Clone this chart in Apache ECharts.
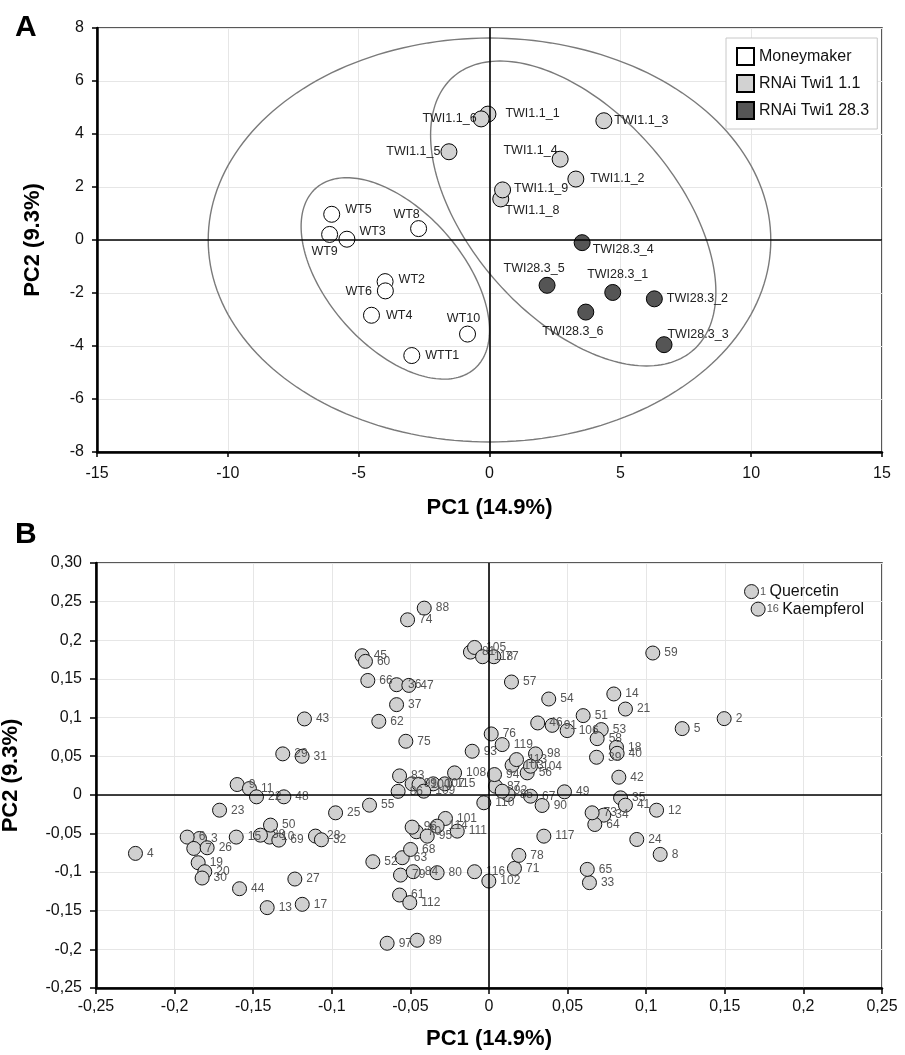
<!DOCTYPE html>
<html>
<head>
<meta charset="utf-8">
<script src="https://cdn.jsdelivr.net/npm/echarts@6/dist/echarts.min.js"></script>
<style>
  html, body { margin: 0; padding: 0; background: #fff; }
  #chart { width: 905px; height: 1055px; }
</style>
</head>
<body>
<div id="chart"></div>
<script>
// ---- panel A: sample scores ----
var wtNames = ["WT5", "WT9", "WT3", "WT8", "WT2", "WT6", "WT4", "WT10", "WTT1"];
var wtX = [-6.03, -6.11, -5.45, -2.71, -3.99, -3.98, -4.51, -0.84, -2.97];
var wtY = [0.97, 0.21, 0.03, 0.43, -1.57, -1.92, -2.84, -3.55, -4.36];

var t11Names = ["TWI1.1_1", "TWI1.1_2", "TWI1.1_3", "TWI1.1_4", "TWI1.1_5", "TWI1.1_6", "TWI1.1_8", "TWI1.1_9"];
var t11X = [-0.06, 3.30, 4.37, 2.70, -1.55, -0.32, 0.43, 0.50];
var t11Y = [4.75, 2.30, 4.50, 3.05, 3.33, 4.57, 1.55, 1.89];

var t28Names = ["TWI28.3_1", "TWI28.3_2", "TWI28.3_3", "TWI28.3_4", "TWI28.3_5", "TWI28.3_6"];
var t28X = [4.71, 6.30, 6.67, 3.54, 2.20, 3.68];
var t28Y = [-1.98, -2.22, -3.95, -0.10, -1.71, -2.72];

// confidence ellipses: centre x, centre y, semi-axis a, semi-axis b, angle (deg)
var ellipses = [
  [0, 0, 10.75, 7.62, 0],
  [-3.6, -1.45, 4.56, 2.57, -48],
  [3.2, 1.0, 6.9, 3.9, -48]
];

// ---- panel B: loadings ----
var compIds = [1, 2, 3, 4, 5, 6, 7, 8, 9, 10, 11, 12, 13, 14, 15, 16, 17, 18, 19, 20,
  21, 22, 23, 24, 25, 26, 27, 28, 29, 30, 31, 32, 33, 34, 35, 36, 37, 38, 39, 40,
  41, 42, 43, 44, 45, 46, 47, 48, 49, 50, 51, 52, 53, 54, 55, 56, 57, 58, 59, 60,
  61, 62, 63, 64, 65, 66, 67, 68, 69, 70, 71, 73, 74, 75, 76, 77, 78, 79, 80, 81,
  83, 84, 85, 86, 87, 88, 89, 90, 91, 92, 93, 94, 95, 96, 97, 98, 99, 100, 101, 102,
  103, 104, 105, 106, 107, 108, 109, 110, 111, 112, 113, 114, 115, 116, 117, 118, 119];
var compX = [0.167, 0.1496, -0.1842, -0.2249, 0.1229, -0.192, -0.1878, 0.1089, -0.1602, -0.1396,
  -0.1524, 0.1066, -0.1411, 0.0794, -0.1608, 0.1712, -0.1188, 0.0811, -0.185, -0.1808,
  0.0868, -0.1479, -0.1714, 0.094, -0.0976, -0.1793, -0.1235, -0.1104, -0.1312, -0.1825,
  -0.1189, -0.1066, 0.0639, 0.073, 0.0837, -0.0588, -0.0588, -0.1454, 0.0684, 0.0815,
  0.0868, 0.0826, -0.1174, -0.1587, -0.0807, 0.031, -0.051, -0.1305, 0.048, -0.139,
  0.0599, -0.0739, 0.0714, 0.038, -0.076, 0.0243, 0.0143, 0.0688, 0.1042, -0.0786,
  -0.0569, -0.0701, -0.0552, 0.0673, 0.0625, -0.0771, 0.0264, -0.0499, -0.1337, -0.0462,
  0.0162, 0.0656, -0.0518, -0.0529, 0.0014, 0.0031, 0.019, -0.0563, -0.033, -0.0118,
  -0.0569, -0.0482, 0.0122, -0.0578, 0.0041, -0.0412, -0.0457, 0.0338, 0.0402, 0.0084,
  -0.0107, 0.0035, -0.0393, -0.0489, -0.0648, 0.0296, -0.0489, -0.0445, -0.0277, -0.0001,
  0.0147, 0.0264, -0.0092, 0.0497, -0.0355, -0.0219, -0.0415, -0.0033, -0.0202, -0.0504,
  0.0175, -0.033, -0.0281, -0.0092, 0.0349, -0.0041, 0.0084];
var compY = [0.263, 0.0986, -0.0565, -0.0758, 0.0857, -0.0547, -0.0694, -0.0771, 0.0133, -0.0547,
  0.0081, -0.0199, -0.146, 0.1305, -0.0547, 0.2403, -0.1417, 0.0615, -0.0879, -0.0995,
  0.111, -0.0026, -0.0199, -0.0578, -0.0233, -0.0685, -0.109, -0.0534, 0.053, -0.1077,
  0.0499, -0.0582, -0.1137, -0.0263, -0.0039, 0.1425, 0.1167, -0.0522, 0.0486, 0.0537,
  -0.0134, 0.0228, 0.0982, -0.1215, 0.18, 0.093, 0.1416, -0.0026, 0.0039, -0.0392,
  0.1025, -0.0866, 0.0844, 0.124, -0.0134, 0.0284, 0.146, 0.0727, 0.1835, 0.1727,
  -0.1297, 0.0951, -0.0814, -0.0384, -0.0965, 0.148, -0.0018, -0.0707, -0.0586, -0.0478,
  -0.0952, -0.0233, 0.2265, 0.0693, 0.0788, 0.1787, -0.0784, -0.1039, -0.1008, 0.1847,
  0.0245, -0.0995, 0.0004, 0.0045, 0.0111, 0.2416, -0.1882, -0.0138, 0.0899, 0.0047,
  0.0564, 0.0262, -0.0535, -0.0418, -0.1921, 0.053, 0.0142, 0.0135, -0.0306, -0.1116,
  0.0383, 0.037, 0.1907, 0.0831, 0.0142, 0.0284, 0.0047, -0.0103, -0.047, -0.1395,
  0.0456, -0.0405, 0.0142, -0.0995, -0.0535, 0.1787, 0.065];
var compNames = { 1: "Quercetin", 16: "Kaempferol" };

var ticksBX = ["-0,25", "-0,2", "-0,15", "-0,1", "-0,05", "0", "0,05", "0,1", "0,15", "0,2", "0,25"];
var ticksBY = ["-0,25", "-0,2", "-0,15", "-0,1", "-0,05", "0", "0,05", "0,1", "0,15", "0,2", "0,25", "0,30"];

// label placement for panel A (position, offset, distance)
var labelPlace = {
  "WT5": ["right", [0, -5], 5], "WT9": ["bottom", [-5, 0], 2], "WT3": ["right", [0, -8], 4],
  "WT8": ["top", [-12, 1], 0], "WT2": ["right", [0, -2], 5], "WT6": ["left", [0, 1], 5],
  "WT4": ["right", [0, 0], 6], "WT10": ["top", [-4, 0], 1], "WTT1": ["right", [0, 0], 5],
  "TWI1.1_1": ["right", [0, -1], 9], "TWI1.1_2": ["right", [0, -1], 6], "TWI1.1_3": ["right", [0, 0], 2],
  "TWI1.1_4": ["left", [6, -9], 0], "TWI1.1_5": ["left", [0, 0], 0], "TWI1.1_6": ["left", [4, 0], 0],
  "TWI1.1_8": ["right", [-4, 12], 0], "TWI1.1_9": ["right", [0, -1], 3],
  "TWI28.3_1": ["top", [5, 0], 3], "TWI28.3_2": ["right", [0, 0], 4], "TWI28.3_3": ["top", [34, 5], 0],
  "TWI28.3_4": ["right", [0, 7], 2], "TWI28.3_5": ["top", [-13, 0], 2], "TWI28.3_6": ["bottom", [-13, 0], 4]
};

var FONT = "Liberation Sans, Arial, Helvetica, sans-serif";

function makeA(names, xs, ys) {
  var arr = [];
  for (var i = 0; i < names.length; i++) {
    var p = labelPlace[names[i]];
    arr.push({
      name: names[i],
      value: [xs[i], ys[i]],
      label: { position: p[0], offset: p[1], distance: p[2] }
    });
  }
  return arr;
}

function makeB() {
  var arr = [];
  for (var i = 0; i < compIds.length; i++) {
    var item = { name: String(compIds[i]), value: [compX[i], compY[i]] };
    if (compNames[compIds[i]]) {
      item.label = { formatter: "{n|" + compIds[i] + "} {t|" + compNames[compIds[i]] + "}", distance: 1 };
    }
    arr.push(item);
  }
  return arr;
}

function axisCommon(gridIndex, tickLen) {
  return {
    type: "value",
    gridIndex: gridIndex,
    axisLine: { show: true, onZero: false, lineStyle: { color: "#000", width: 2.5 } },
    axisTick: { show: true, length: tickLen, lineStyle: { color: "#000", width: 1.5 } },
    splitLine: { show: true, lineStyle: { color: "#e6e6e6", width: 1 } },
    nameLocation: "middle",
    nameTextStyle: { fontSize: 22, fontWeight: "bold", color: "#000", fontFamily: FONT }
  };
}

function zeroLines() {
  return {
    silent: true,
    symbol: ["none", "none"],
    label: { show: false },
    lineStyle: { color: "#000", width: 1.6, type: "solid" },
    data: [{ xAxis: 0 }, { yAxis: 0 }]
  };
}

var labelA = { show: true, fontSize: 12.5, color: "#222", fontFamily: FONT };

var myChart = echarts.init(document.getElementById("chart"));
var option = {
  animation: false,
  backgroundColor: "#fff",
  textStyle: { fontFamily: FONT },
  title: [
    { text: "A", left: 10, top: 8, textStyle: { fontSize: 30, fontWeight: "bold", color: "#000", fontFamily: FONT } },
    { text: "B", left: 10, top: 515, textStyle: { fontSize: 30, fontWeight: "bold", color: "#000", fontFamily: FONT } }
  ],
  legend: {
    data: ["Moneymaker", "RNAi Twi1 1.1", "RNAi Twi1 28.3"],
    orient: "vertical",
    left: 726,
    top: 38,
    padding: [9, 8, 9, 10],
    itemGap: 8,
    itemWidth: 17,
    itemHeight: 17,
    icon: "rect",
    backgroundColor: "#fff",
    borderColor: "#c8c8c8",
    borderWidth: 1,
    textStyle: { fontSize: 16, color: "#111", fontFamily: FONT }
  },
  grid: [
    { left: 97, top: 28, width: 785, height: 424, show: true, borderColor: "#222", borderWidth: 1.5, outerBoundsMode: "none", containLabel: false },
    { left: 96, top: 563, width: 786, height: 425, show: true, borderColor: "#222", borderWidth: 1.5, outerBoundsMode: "none", containLabel: false }
  ],
  xAxis: [
    Object.assign(axisCommon(0, 5), {
      min: -15, max: 15, interval: 5,
      name: "PC1 (14.9%)", nameGap: 45,
      axisLabel: { fontSize: 16, color: "#111", margin: 14, fontFamily: FONT }
    }),
    Object.assign(axisCommon(1, 6), {
      min: -0.25, max: 0.25, interval: 0.05,
      name: "PC1 (14.9%)", nameGap: 40,
      axisLabel: {
        fontSize: 16, color: "#111", margin: 11, fontFamily: FONT,
        formatter: function (v) { return ticksBX[Math.round((v + 0.25) / 0.05)]; }
      }
    })
  ],
  yAxis: [
    Object.assign(axisCommon(0, 5), {
      min: -8, max: 8, interval: 2,
      name: "PC2 (9.3%)", nameGap: 53,
      axisLabel: { fontSize: 16, color: "#111", margin: 13, fontFamily: FONT }
    }),
    Object.assign(axisCommon(1, 6), {
      min: -0.25, max: 0.3, interval: 0.05,
      name: "PC2 (9.3%)", nameGap: 74,
      axisLabel: {
        fontSize: 16, color: "#111", margin: 14, fontFamily: FONT,
        formatter: function (v) { return ticksBY[Math.round((v + 0.25) / 0.05)]; }
      }
    })
  ],
  series: [
    {
      type: "custom",
      name: "ellipses",
      xAxisIndex: 0,
      yAxisIndex: 0,
      silent: true,
      z: 1,
      data: ellipses.map(function (e) { return [e[0], e[1]]; }),
      renderItem: function (params, api) {
        var e = ellipses[params.dataIndex];
        var th = e[4] * Math.PI / 180;
        var pts = [];
        for (var i = 0; i <= 200; i++) {
          var t = i / 200 * 2 * Math.PI;
          var ux = e[2] * Math.cos(t), uy = e[3] * Math.sin(t);
          pts.push(api.coord([e[0] + ux * Math.cos(th) - uy * Math.sin(th),
                              e[1] + ux * Math.sin(th) + uy * Math.cos(th)]));
        }
        return { type: "polyline", shape: { points: pts }, style: { fill: null, stroke: "#7a7a7a", lineWidth: 1.4 } };
      }
    },
    {
      type: "scatter",
      name: "Moneymaker",
      xAxisIndex: 0, yAxisIndex: 0, z: 3,
      symbolSize: 16,
      itemStyle: { color: "#fff", borderColor: "#000", borderWidth: 1, opacity: 1 },
      label: Object.assign({ formatter: "{b}" }, labelA),
      markLine: zeroLines(),
      data: makeA(wtNames, wtX, wtY)
    },
    {
      type: "scatter",
      name: "RNAi Twi1 1.1",
      xAxisIndex: 0, yAxisIndex: 0, z: 3,
      symbolSize: 16,
      itemStyle: { color: "#d2d2d2", borderColor: "#000", borderWidth: 1, opacity: 1 },
      label: Object.assign({ formatter: "{b}" }, labelA),
      data: makeA(t11Names, t11X, t11Y)
    },
    {
      type: "scatter",
      name: "RNAi Twi1 28.3",
      xAxisIndex: 0, yAxisIndex: 0, z: 3,
      symbolSize: 16,
      itemStyle: { color: "#555", borderColor: "#000", borderWidth: 1, opacity: 1 },
      label: Object.assign({ formatter: "{b}" }, labelA),
      data: makeA(t28Names, t28X, t28Y)
    },
    {
      type: "scatter",
      name: "compounds",
      xAxisIndex: 1, yAxisIndex: 1, z: 3,
      symbolSize: 14,
      itemStyle: { color: "#d0d0d0", borderColor: "#111", borderWidth: 1, opacity: 1 },
      label: {
        show: true, position: "right", distance: 4, formatter: "{b}",
        fontSize: 12, color: "#555", fontFamily: FONT,
        rich: {
          n: { fontSize: 11, color: "#555", fontFamily: FONT },
          t: { fontSize: 16, color: "#111", fontFamily: FONT }
        }
      },
      markLine: zeroLines(),
      data: makeB()
    }
  ]
};
myChart.setOption(option);
</script>
</body>
</html>
